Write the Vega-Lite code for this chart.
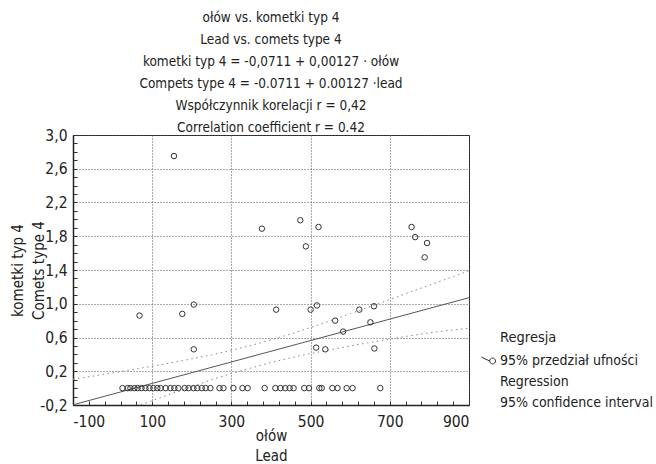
{
  "$schema": "https://vega.github.io/schema/vega-lite/v6.json",
  "width": 396,
  "height": 270,
  "autosize": {"type": "none"},
  "padding": {"left": 73, "top": 135, "right": 187, "bottom": 59},
  "background": "white",
  "datasets": {
    "bands": [
      {"x": 0, "y": -0.323, "b": "lower"}, {"x": 50, "y": -0.235, "b": "lower"}, {"x": 100, "y": -0.148, "b": "lower"},
      {"x": 150, "y": -0.064, "b": "lower"}, {"x": 200, "y": 0.019, "b": "lower"}, {"x": 250, "y": 0.098, "b": "lower"},
      {"x": 300, "y": 0.172, "b": "lower"}, {"x": 350, "y": 0.240, "b": "lower"}, {"x": 400, "y": 0.303, "b": "lower"},
      {"x": 450, "y": 0.359, "b": "lower"}, {"x": 500, "y": 0.410, "b": "lower"}, {"x": 550, "y": 0.456, "b": "lower"},
      {"x": 600, "y": 0.500, "b": "lower"}, {"x": 650, "y": 0.541, "b": "lower"}, {"x": 700, "y": 0.581, "b": "lower"},
      {"x": 750, "y": 0.620, "b": "lower"}, {"x": 800, "y": 0.655, "b": "lower"}, {"x": 850, "y": 0.685, "b": "lower"},
      {"x": 900, "y": 0.710, "b": "lower"},
      {"x": -100, "y": 0.105, "b": "upper"}, {"x": -50, "y": 0.142, "b": "upper"}, {"x": 0, "y": 0.181, "b": "upper"},
      {"x": 50, "y": 0.220, "b": "upper"}, {"x": 100, "y": 0.260, "b": "upper"}, {"x": 150, "y": 0.302, "b": "upper"},
      {"x": 200, "y": 0.347, "b": "upper"}, {"x": 250, "y": 0.395, "b": "upper"}, {"x": 300, "y": 0.448, "b": "upper"},
      {"x": 350, "y": 0.506, "b": "upper"}, {"x": 400, "y": 0.571, "b": "upper"}, {"x": 450, "y": 0.642, "b": "upper"},
      {"x": 500, "y": 0.718, "b": "upper"}, {"x": 550, "y": 0.799, "b": "upper"}, {"x": 600, "y": 0.882, "b": "upper"},
      {"x": 650, "y": 0.965, "b": "upper"}, {"x": 700, "y": 1.050, "b": "upper"}, {"x": 750, "y": 1.135, "b": "upper"},
      {"x": 800, "y": 1.220, "b": "upper"}, {"x": 850, "y": 1.305, "b": "upper"}, {"x": 900, "y": 1.390, "b": "upper"}
    ],
    "fit": [
      {"x": -100, "y": -0.198},
      {"x": 900, "y": 1.072}
    ],
    "points": [
      {"x": 155, "y": 2.75}, {"x": 377, "y": 1.89}, {"x": 474, "y": 1.99}, {"x": 520, "y": 1.91},
      {"x": 488, "y": 1.68}, {"x": 755, "y": 1.91}, {"x": 764, "y": 1.79}, {"x": 794, "y": 1.72},
      {"x": 788, "y": 1.55}, {"x": 68, "y": 0.86}, {"x": 176, "y": 0.88}, {"x": 205, "y": 0.99},
      {"x": 205, "y": 0.46}, {"x": 413, "y": 0.93}, {"x": 500, "y": 0.93}, {"x": 516, "y": 0.98},
      {"x": 623, "y": 0.93}, {"x": 660, "y": 0.97}, {"x": 562, "y": 0.80}, {"x": 651, "y": 0.78},
      {"x": 582, "y": 0.67}, {"x": 514, "y": 0.48}, {"x": 537, "y": 0.46}, {"x": 661, "y": 0.47},
      {"x": 25, "y": 0}, {"x": 38, "y": 0}, {"x": 45, "y": 0}, {"x": 55, "y": 0}, {"x": 63, "y": 0},
      {"x": 73, "y": 0}, {"x": 83, "y": 0}, {"x": 93, "y": 0}, {"x": 103, "y": 0}, {"x": 113, "y": 0},
      {"x": 121, "y": 0}, {"x": 134, "y": 0}, {"x": 146, "y": 0}, {"x": 156, "y": 0}, {"x": 166, "y": 0},
      {"x": 182, "y": 0}, {"x": 192, "y": 0}, {"x": 204, "y": 0}, {"x": 214, "y": 0}, {"x": 225, "y": 0},
      {"x": 235, "y": 0}, {"x": 247, "y": 0}, {"x": 270, "y": 0}, {"x": 280, "y": 0}, {"x": 305, "y": 0},
      {"x": 328, "y": 0}, {"x": 341, "y": 0}, {"x": 384, "y": 0}, {"x": 411, "y": 0}, {"x": 424, "y": 0},
      {"x": 436, "y": 0}, {"x": 447, "y": 0}, {"x": 457, "y": 0}, {"x": 484, "y": 0}, {"x": 496, "y": 0},
      {"x": 522, "y": 0}, {"x": 528, "y": 0}, {"x": 555, "y": 0}, {"x": 568, "y": 0}, {"x": 591, "y": 0},
      {"x": 606, "y": 0}, {"x": 676, "y": 0}
    ]
  },
  "title": {
    "text": [
      "ołów vs. kometki typ 4",
      "Lead vs. comets type 4",
      "kometki typ 4 = -0,0711 + 0,00127 · ołów",
      "Compets type 4 = -0.0711 + 0.00127 ·lead",
      "Współczynnik korelacji r = 0,42",
      "Correlation coefficient r = 0.42"
    ],
    "font": "Liberation Sans Narrow, Arial Narrow, DejaVu Sans Condensed, Roboto Condensed, sans-serif",
    "fontSize": 13.5,
    "fontWeight": "normal",
    "color": "#222",
    "lineHeight": 22,
    "anchor": "middle",
    "offset": -6
  },
  "layer": [
    {
      "data": {"name": "bands"},
      "mark": {"type": "line", "clip": true, "stroke": "#888", "strokeWidth": 1, "strokeDash": [1.5, 3.5]},
      "encoding": {
        "x": {
          "field": "x", "type": "quantitative",
          "scale": {"domain": [-100, 900], "nice": false, "zero": false},
          "axis": {
            "orient": "bottom", "title": null, "labels": false, "grid": false, "domain": false,
            "ticks": true, "tickSize": -4, "tickColor": "#333",
            "values": [-100, -60, -20, 20, 60, 100, 140, 180, 220, 260, 300, 340, 380, 420, 460, 500, 540, 580, 620, 660, 700, 740, 780, 820, 860, 900]
          }
        },
        "y": {
          "field": "y", "type": "quantitative",
          "scale": {"domain": [-0.2, 3.0], "nice": false, "zero": false},
          "axis": {
            "orient": "left", "title": null, "labels": false, "grid": false, "domain": false,
            "ticks": true, "tickSize": -4, "tickColor": "#333",
            "values": [-0.2, -0.1, 0, 0.1, 0.2, 0.3, 0.4, 0.5, 0.6, 0.7, 0.8, 0.9, 1.0, 1.1, 1.2, 1.3, 1.4, 1.5, 1.6, 1.7, 1.8, 1.9, 2.0, 2.1, 2.2, 2.3, 2.4, 2.5, 2.6, 2.7, 2.8, 2.9, 3.0]
          }
        },
        "detail": {"field": "b", "type": "nominal"}
      }
    },
    {
      "data": {"name": "fit"},
      "mark": {"type": "line", "clip": true, "stroke": "#555", "strokeWidth": 1},
      "encoding": {
        "x": {"field": "x", "type": "quantitative", "scale": {"domain": [-100, 900], "nice": false, "zero": false}, "axis": null},
        "y": {"field": "y", "type": "quantitative", "scale": {"domain": [-0.2, 3.0], "nice": false, "zero": false}, "axis": null}
      }
    },
    {
      "data": {"name": "points"},
      "mark": {"type": "point", "shape": "circle", "filled": false, "size": 30, "strokeWidth": 1, "opacity": 1},
      "encoding": {
        "x": {
          "field": "x", "type": "quantitative",
          "scale": {"domain": [-100, 900], "nice": false, "zero": false},
          "axis": {
            "orient": "bottom",
            "title": ["ołów", "Lead"],
            "values": [-100, 100, 300, 500, 700, 900],
            "labelExpr": "replace(format(datum.value, 'd'), '\u2212', '-')",
            "ticks": false,
            "labelPadding": 9,
            "titlePadding": -1,
            "titleLineHeight": 20,
            "grid": true,
            "gridDash": [1, 2],
            "gridColor": "#555",
            "domain": true,
            "domainColor": "#222",
            "domainWidth": 1.5
          }
        },
        "y": {
          "field": "y", "type": "quantitative",
          "scale": {"domain": [-0.2, 3.0], "nice": false, "zero": false},
          "axis": {
            "orient": "left",
            "title": ["kometki typ 4", "Comets type 4"],
            "values": [-0.2, 0.2, 0.6, 1.0, 1.4, 1.8, 2.2, 2.6, 3.0],
            "labelExpr": "replace(replace(format(datum.value, '.1f'), '.', ','), '\u2212', '-')",
            "ticks": false,
            "labelPadding": 6,
            "titlePadding": -7,
            "grid": true,
            "gridDash": [1, 2],
            "gridColor": "#555",
            "domain": true,
            "domainColor": "#222",
            "domainWidth": 1.5
          }
        },
        "stroke": {
          "datum": "ci",
          "type": "nominal",
          "scale": {"domain": ["ci"], "range": ["#333"]},
          "legend": {
            "orient": "none",
            "legendX": 408,
            "legendY": 196,
            "padding": 0,
            "title": "\u2800\u2800Regresja",
            "titleFontWeight": "normal",
            "titleFontSize": 14.5,
            "titleColor": "#222",
            "titlePadding": 8,
            "titleBaseline": "top",
            "labelExpr": "['95% przedział ufności', 'Regression', '95% confidence interval']",
            "labelFontSize": 14,
            "labelColor": "#222",
            "labelLimit": 400,
            "labelOffset": 4,
            "symbolType": "M-1,-0.55L0.16,0M1,0A0.42,0.42,0,1,1,0.16,0A0.42,0.42,0,1,1,1,0",
            "symbolSize": 196,
            "symbolStrokeWidth": 1,
            "symbolFillColor": "transparent"
          }
        }
      }
    }
  ],
  "resolve": {"axis": {"x": "independent", "y": "independent"}},
  "config": {
    "font": "Liberation Sans Narrow, Arial Narrow, DejaVu Sans Condensed, Roboto Condensed, sans-serif",
    "view": {"stroke": "#222", "strokeWidth": 1},
    "style": {"guide-label": {"lineHeight": 21}},
    "axis": {
      "labelFontSize": 15.5,
      "labelColor": "#222",
      "titleFontSize": 15,
      "titleFontWeight": "normal",
      "titleColor": "#222",
      "titleLineHeight": 21
    }
  }
}
